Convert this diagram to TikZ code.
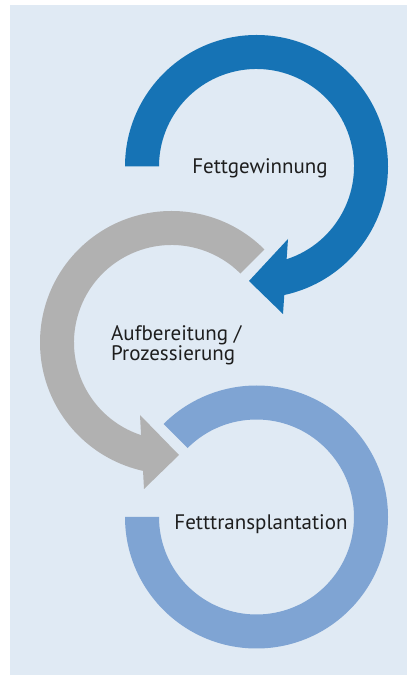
\documentclass[tikz,border=0pt]{standalone}
\usepackage{fontspec}
\setmainfont{PT Sans}
\usepackage{xcolor}
\definecolor{panelbg}{HTML}{E0EAF4}
\definecolor{stepblue}{HTML}{1673B5}
\definecolor{stepgrey}{HTML}{B1B1B1}
\definecolor{steplight}{HTML}{7FA4D3}
\definecolor{steptext}{HTML}{1E1E1E}
\begin{document}
\begin{tikzpicture}[x=1pt, y=1pt,
    steplabel/.style={text=steptext, font=\fontsize{21}{18.5}\selectfont, inner sep=0pt}]
  \useasboundingbox (0,0) rectangle (407,675);
  \fill[panelbg] (10,0) rectangle (407,670);

  \coordinate (gewinnungC) at (256.5,508.5);
  \coordinate (aufbereitungC) at (171.5,332.5);
  \coordinate (transplantC) at (256.5,158);

  % ring with the open end at the upper left
  \begin{scope}[shift={(transplantC)}]
    \fill[steplight] (180:131.5) arc[start angle=180, end angle=495, radius=131.5]
      -- (495:97.5) arc[start angle=495, end angle=180, radius=97.5] -- cycle;
  \end{scope}

  % grey arrow
  \begin{scope}[shift={(aufbereitungC)}]
    \fill[stepgrey] (45:131.5) arc[start angle=45, end angle=257.5, radius=131.5]
      -- (-27.5,-146.5) -- (7.5,-112.5) -- (-31.5,-72.5) -- (251.8:97.5)
      arc[start angle=251.8, end angle=45, radius=97.5] -- cycle;
  \end{scope}

  % blue arrow
  \begin{scope}[shift={(gewinnungC)}]
    \fill[stepblue] (180:131.5) arc[start angle=180, end angle=-77.8, radius=131.5]
      -- (26.5,-147.5) -- (-7.5,-114.5) -- (31.5,-72.5) -- (-72:97.5)
      arc[start angle=-72, end angle=180, radius=97.5] -- cycle;
  \end{scope}

  \node[steplabel, anchor=base] (gewinnung) at (260,501) {Fettgewinnung};
  \node[steplabel, anchor=base west, align=left] (aufbereitung) at (111,314)
    {Aufbereitung /\\Prozessierung};
  \node[steplabel, anchor=base] (transplant) at (261,145) {Fetttransplantation};
\end{tikzpicture}
\end{document}
